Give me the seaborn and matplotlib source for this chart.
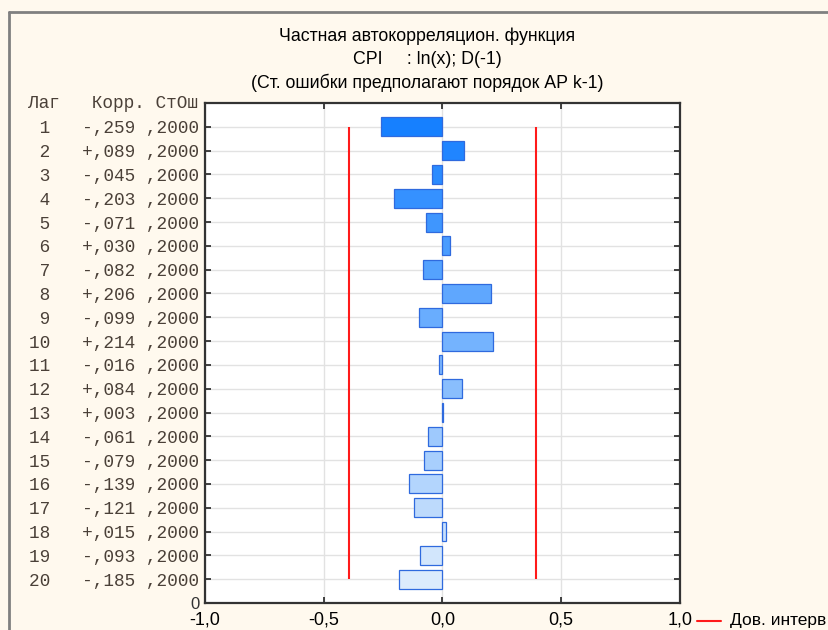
import matplotlib
matplotlib.use("Agg")
import matplotlib.pyplot as plt
from matplotlib.lines import Line2D
import seaborn as sns
import pandas as pd

# Partial autocorrelation of CPI, ln(x), first difference
lags = list(range(1, 21))
pacf = [-0.259, 0.089, -0.045, -0.203, -0.071, 0.030, -0.082, 0.206, -0.099, 0.214,
        -0.016, 0.084, 0.003, -0.061, -0.079, -0.139, -0.121, 0.015, -0.093, -0.185]
std_err = [0.2000] * 20
x_ticks = [-1.0, -0.5, 0.0, 0.5, 1.0]
x_tick_labels = ["-1,0", "-0,5", "0,0", "0,5", "1,0"]
title_lines = ["Частная автокорреляцион. функция",
               "CPI     : ln(x); D(-1)",
               "(Ст. ошибки предполагают порядок АР k-1)"]
header = "Лаг   Корр. СтОш"
legend_label = "Дов. интерв"

df = pd.DataFrame({"lag": lags, "pacf": pacf, "se": std_err})


def fmt_corr(v):
    sign = "-" if v < 0 else "+"
    return sign + "," + f"{abs(v):.3f}".split(".")[1]


def fmt_se(v):
    return "," + f"{v:.4f}".split(".")[1]


row_labels = [f"{l:>2}   {fmt_corr(c)} {fmt_se(s)}" for l, c, s in zip(lags, pacf, std_err)]

sns.set_theme(style="white")
plt.rcParams["font.family"] = ["Liberation Sans", "DejaVu Sans"]

bg = "#fff9ee"
mono_color = "#4a4038"
mono_size = 12.8
fig = plt.figure(figsize=(8.29, 6.30), dpi=100, facecolor=bg)
ax = fig.add_axes([205 / 829, 27 / 630, 475 / 829, 500 / 630])
ax.set_facecolor("white")

palette = sns.blend_palette(["#1680ff", "#dcebfc"], n_colors=len(lags))
sns.barplot(data=df, x="pacf", y="lag", hue="lag", palette=palette, orient="h",
            native_scale=True, width=0.8, legend=False, saturation=1,
            edgecolor="#2f6ade", linewidth=0.9, ax=ax, zorder=3)

# confidence band: +/- 1.96 * standard error
ci = [1.96 * s for s in std_err]
ax.vlines([-ci[0], ci[0]], lags[0], lags[-1], color="#ff1a1a", lw=1.5, zorder=4)

# lag 1 at the top; the bottom edge of the frame is labelled 0
n_rows = len(lags) + 1
ax.set_xlim(-1, 1)
ax.set_ylim(n_rows, 0)
ax.set_xticks(x_ticks)
ax.set_xticklabels(x_tick_labels, fontsize=13, color="black")
ax.set_yticks(lags + [n_rows])
ax.set_yticklabels(row_labels + ["0"])
for i, t in enumerate(ax.get_yticklabels()):
    if i == len(lags):
        t.set_fontfamily(["Liberation Sans"])
        t.set_fontsize(12)
        t.set_color("#333333")
    else:
        t.set_fontfamily(["Liberation Mono"])
        t.set_fontsize(mono_size)
        t.set_color(mono_color)
ax.set_xlabel("")
ax.set_ylabel("")

ax.grid(True, color="#e2e2e2", lw=1.0, zorder=0)
ax.set_axisbelow(True)
ax.tick_params(direction="in", length=4, width=1.2, color="#222222",
               top=True, right=True, bottom=True, left=True, pad=4)
ax.tick_params(axis="x", pad=6)
for sp in ax.spines.values():
    sp.set_visible(True)
    sp.set_color("#333333")
    sp.set_linewidth(1.6)

ax.text(-0.0145, 0, header, transform=ax.get_yaxis_transform(), ha="right", va="center",
        family=["Liberation Mono"], fontsize=mono_size, color=mono_color)

for i, line in enumerate(title_lines):
    fig.text(427 / 829, 1 - (36 + 23.5 * i) / 630, line, ha="center", va="center",
             fontsize=12.8, color="black")

# legend entry for the confidence interval lines
fig.add_artist(Line2D([697 / 829, 721 / 829], [1 - 621 / 630, 1 - 621 / 630],
                      color="#ff1a1a", lw=1.5))
fig.text(730 / 829, 1 - 621 / 630, legend_label, ha="left", va="center",
         fontsize=12.5, color="black")

# outer frame
fig.add_artist(Line2D([9 / 829, 1.0], [1 - 12 / 630, 1 - 12 / 630], color="#808080", lw=2))
fig.add_artist(Line2D([9 / 829, 9 / 829], [0, 1 - 12 / 630], color="#808080", lw=2))

fig.savefig("out.png", dpi=100, facecolor=bg)
